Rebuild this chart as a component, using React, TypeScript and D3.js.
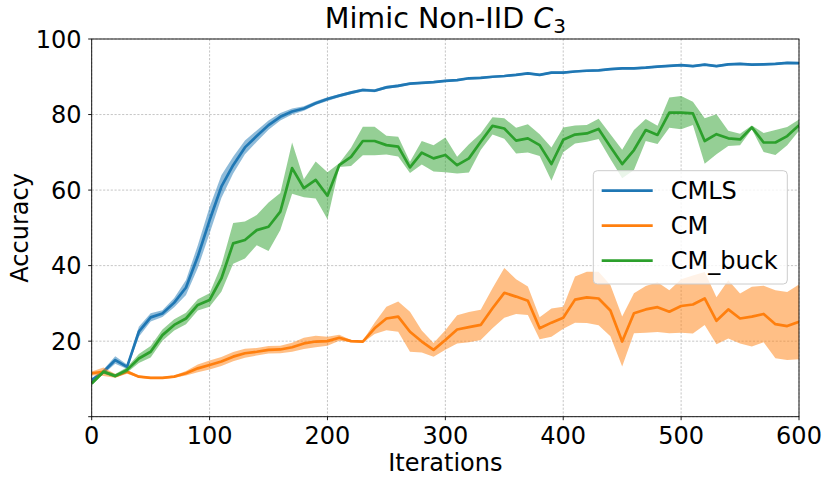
import React from "react";
import * as d3 from "d3";

const iterations: number[] = d3.range(0, 601, 10);

const cmlsMean = [9.7, 11.9, 15.0, 13.2, 22.5, 26.3, 27.3, 30.2, 34.2, 42.4, 52, 60.9, 66.6, 71.3, 74.3, 77.2, 79.4, 80.8, 81.6, 83, 84.1, 85, 85.8, 86.5, 86.3, 87.2, 87.6, 88.2, 88.4, 88.6, 88.9, 89.1, 89.6, 89.7, 90, 90.2, 90.5, 90.9, 90.5, 91.1, 91.1, 91.4, 91.6, 91.7, 92, 92.2, 92.2, 92.4, 92.7, 92.9, 93.1, 92.8, 93.2, 92.8, 93.3, 93.4, 93.2, 93.3, 93.4, 93.7, 93.6];
const cmlsSpread = [0.5, 0.6, 1, 0.6, 1.3, 1.1, 0.9, 1.2, 2, 3, 3.5, 3, 2.2, 1.8, 1.5, 1.2, 1, 0.8, 0.6, 0.5, 0.5, 0.4, 0.4, 0.4, 0.4, 0.4, 0.4, 0.3, 0.3, 0.3, 0.3, 0.3, 0.3, 0.3, 0.3, 0.3, 0.3, 0.3, 0.3, 0.3, 0.3, 0.3, 0.3, 0.3, 0.3, 0.3, 0.3, 0.3, 0.3, 0.3, 0.3, 0.3, 0.3, 0.3, 0.3, 0.3, 0.3, 0.3, 0.3, 0.3, 0.3];

const cmMean = [11.5, 11.9, 10.8, 11.9, 10.6, 10.3, 10.3, 10.6, 11.5, 12.8, 13.7, 14.6, 15.9, 16.8, 17.2, 17.7, 17.8, 18.4, 19.4, 19.9, 20.0, 20.9, 20.0, 19.9, 23.4, 26, 26.5, 22.5, 19.9, 17.7, 20.3, 23.1, 23.7, 24.3, 28.7, 32.8, 31.8, 30.7, 23.4, 24.9, 26.2, 31.0, 31.6, 31.3, 28.1, 19.9, 27.4, 28.4, 29, 27.8, 29.3, 29.7, 31.3, 25.4, 28.4, 26, 26.5, 27.2, 24.5, 24, 25.1];
const cmSpread = [0.5, 1.1, 0.5, 0.5, 0.3, 0.3, 0.3, 0.3, 0.6, 1, 1.2, 1.2, 1.2, 1.2, 1, 1, 1, 1.2, 1.5, 1.5, 1.2, 0.8, 0.3, 0.3, 1.5, 3.1, 4, 5.3, 2.9, 1.8, 2.6, 3.75, 4, 4, 5.3, 6.6, 4.6, 3.75, 2.9, 3.75, 2.9, 6.1, 6.8, 7.1, 6.8, 6.6, 5.3, 6.2, 6.6, 5.7, 7.1, 7.7, 7, 6.2, 7.7, 6.6, 7.9, 7.5, 9, 9, 9.9];

const buckMean = [8.8, 11.9, 10.8, 12.4, 15.4, 17.2, 21.6, 24.3, 26, 29.6, 30.9, 36.6, 45.9, 46.8, 49.4, 50.3, 54.3, 65.8, 60.5, 62.7, 58.5, 66.6, 68.8, 73, 73, 71.9, 71.5, 66, 69.9, 68.4, 69.3, 66.6, 68.4, 72.8, 77, 76.3, 73.1, 73.7, 71.9, 66.9, 73.3, 74.7, 75, 76.2, 71.5, 66.9, 70.6, 75.9, 74.6, 80.5, 80.5, 80.3, 73, 74.8, 73.7, 73.4, 76.6, 72.6, 72.6, 74.3, 77.2];
const buckSpread = [0.5, 0.5, 0.5, 0.7, 1.2, 1.5, 1.5, 1.5, 1.5, 1.5, 1.8, 3.5, 5.4, 4.9, 4, 6.4, 4.9, 6.8, 2.4, 4.9, 6.2, 0.5, 2.4, 3.75, 3.75, 2.5, 2.6, 1.5, 3.1, 3.5, 4.6, 2.2, 3.75, 2.2, 2.3, 2.7, 3.4, 3.75, 2.9, 4.4, 3.3, 2.4, 2.2, 2.7, 3.3, 3.75, 5.3, 2.9, 2.4, 4, 4.4, 3.1, 6, 5.3, 2, 1.5, 0.5, 2.5, 3.3, 2.4, 1.5];

const seriesNames = ["CMLS", "CM", "CM_buck"];
const seriesColors = ["#1f77b4", "#ff7f0e", "#2ca02c"];
const seriesMeans = [cmlsMean, cmMean, buckMean];
const seriesSpreads = [cmlsSpread, cmSpread, buckSpread];

const xTicks = [0, 100, 200, 300, 400, 500, 600];
const yTicks = [20, 40, 60, 80, 100];

const W = 831;
const H = 485;
const M = { left: 91.7, right: 799, top: 39, bottom: 416.7 };
const FONT = "'DejaVu Sans', sans-serif";

export default function App() {
  const x = d3.scaleLinear().domain([0, 600]).range([M.left, M.right]);
  const y = d3.scaleLinear().domain([0, 100]).range([M.bottom, M.top]);

  const line = d3
    .line<number>()
    .x((_, i) => x(iterations[i]))
    .y((d) => y(d));

  const makeArea = (mean: number[], spread: number[]) =>
    d3
      .area<number>()
      .x((_, i) => x(iterations[i]))
      .y0((d, i) => y(d - spread[i]))
      .y1((d, i) => y(d + spread[i]))(mean) || "";

  const legendX = 593.3;
  const legendY = 170.7;

  return (
    <svg
      width={W}
      height={H}
      style={{ position: "absolute", left: 0, top: 0, background: "#fff" }}
      fontFamily={FONT}
    >
      <rect x={0} y={0} width={W} height={H} fill="#fff" />
      <defs>
        <clipPath id="plot">
          <rect x={M.left} y={M.top} width={M.right - M.left} height={M.bottom - M.top} />
        </clipPath>
      </defs>

      {/* grid */}
      <g stroke="#b8b8b8" strokeWidth={0.8} strokeDasharray="2.2,1.6">
        {xTicks.map((t) => (
          <line key={"gx" + t} x1={x(t)} x2={x(t)} y1={M.top} y2={M.bottom} />
        ))}
        {[0, ...yTicks].map((t) => (
          <line key={"gy" + t} x1={M.left} x2={M.right} y1={y(t)} y2={y(t)} />
        ))}
      </g>

      {/* series */}
      <g clipPath="url(#plot)">
        {seriesNames.map((name, k) => (
          <g key={name}>
            <path d={makeArea(seriesMeans[k], seriesSpreads[k])} fill={seriesColors[k]} fillOpacity={0.5} stroke="none" />
            <path
              d={line(seriesMeans[k]) || ""}
              fill="none"
              stroke={seriesColors[k]}
              strokeWidth={2.7}
              strokeLinejoin="round"
            />
          </g>
        ))}
      </g>

      {/* spines */}
      <rect
        x={M.left}
        y={M.top}
        width={M.right - M.left}
        height={M.bottom - M.top}
        fill="none"
        stroke="#000"
        strokeWidth={0.9}
      />

      {/* x ticks */}
      {xTicks.map((t) => (
        <g key={"xt" + t}>
          <line x1={x(t)} x2={x(t)} y1={M.bottom} y2={M.bottom + 3.5} stroke="#000" strokeWidth={0.9} />
          <text x={x(t)} y={444.3} textAnchor="middle" fontSize={24} fill="#000">
            {t}
          </text>
        </g>
      ))}
      {/* y ticks */}
      {[0, ...yTicks].map((t) => (
        <g key={"yt" + t}>
          <line x1={M.left - 3.5} x2={M.left} y1={y(t)} y2={y(t)} stroke="#000" strokeWidth={0.9} />
          {t > 0 && (
            <text x={81.5} y={y(t) + 8.7} textAnchor="end" fontSize={24} fill="#000">
              {t}
            </text>
          )}
        </g>
      ))}

      {/* axis labels */}
      <text x={(M.left + M.right) / 2} y={470.7} textAnchor="middle" fontSize={24} fill="#000">
        Iterations
      </text>
      <text
        transform={`translate(28,${(M.top + M.bottom) / 2}) rotate(-90)`}
        textAnchor="middle"
        fontSize={24}
        fill="#000"
      >
        Accuracy
      </text>

      {/* title */}
      <text x={(M.left + M.right) / 2} y={28.3} textAnchor="middle" fontSize={28.6} fill="#000">
        Mimic Non-IID{" "}
        <tspan fontStyle="italic">C</tspan>
        <tspan fontSize={20} dy={4.5}>3</tspan>
      </text>

      {/* legend */}
      <g>
        <rect
          x={legendX}
          y={legendY}
          width={194}
          height={113.3}
          rx={4}
          fill="#fff"
          fillOpacity={0.8}
          stroke="#cccccc"
          strokeWidth={1}
        />
        {seriesNames.map((name, k) => {
          const ly = 190.7 + k * 35;
          return (
            <g key={"lg" + name}>
              <line x1={601.7} x2={652.7} y1={ly} y2={ly} stroke={seriesColors[k]} strokeWidth={2.7} />
              <text x={670.7} y={ly + 8.3} fontSize={24} fill="#000">
                {name}
              </text>
            </g>
          );
        })}
      </g>
    </svg>
  );
}
